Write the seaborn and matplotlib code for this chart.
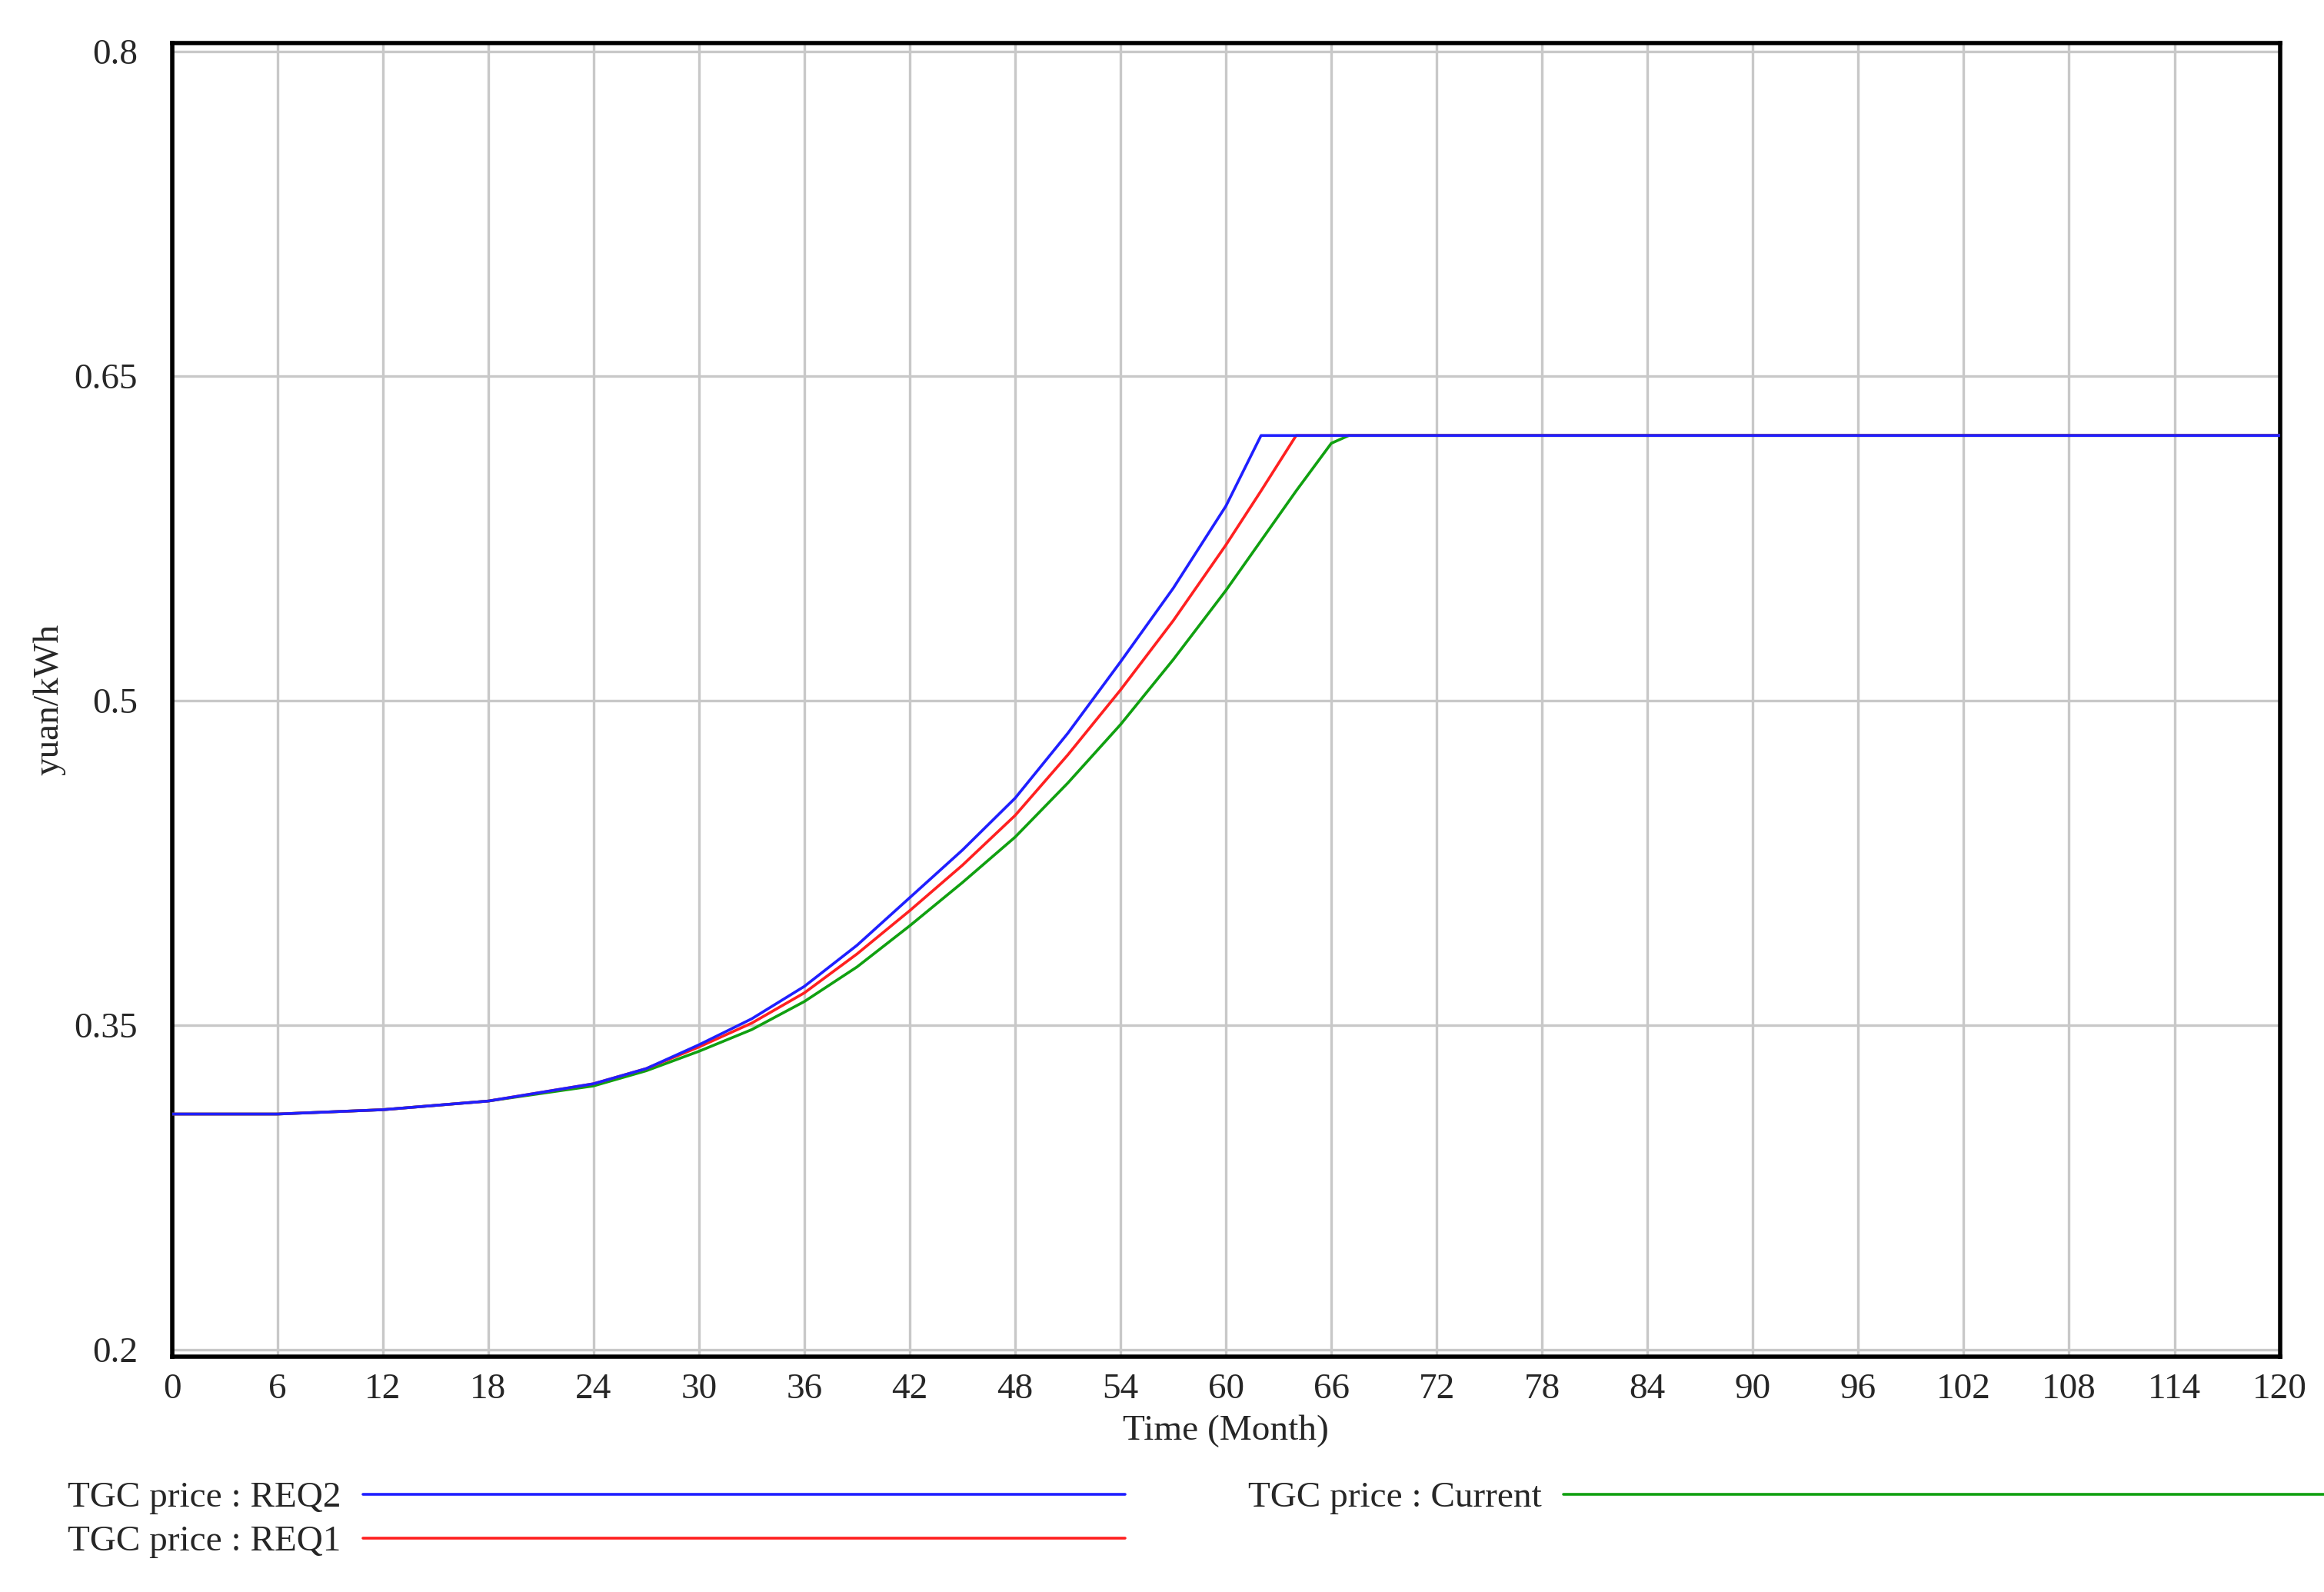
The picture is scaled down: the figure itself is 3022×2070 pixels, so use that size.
import matplotlib
matplotlib.use("Agg")
import matplotlib.pyplot as plt
import seaborn as sns
import numpy as np
import pandas as pd

# values
months = [0, 6, 12, 18, 24, 27, 30, 33, 36, 39, 42, 45, 48, 51, 54, 57, 60, 62, 64, 66, 67, 72, 120]
req2 = [0.309, 0.309, 0.311, 0.315, 0.323, 0.330, 0.341, 0.353, 0.368, 0.387, 0.409, 0.431, 0.455, 0.485, 0.518, 0.552, 0.590, 0.6226, 0.6226, 0.6226, 0.6226, 0.6226, 0.6226]
req1 = [0.309, 0.309, 0.311, 0.315, 0.323, 0.330, 0.340, 0.351, 0.365, 0.383, 0.403, 0.424, 0.447, 0.475, 0.505, 0.537, 0.572, 0.597, 0.6226, 0.6226, 0.6226, 0.6226, 0.6226]
current = [0.309, 0.309, 0.311, 0.315, 0.322, 0.329, 0.338, 0.348, 0.361, 0.377, 0.396, 0.416, 0.437, 0.462, 0.489, 0.519, 0.551, 0.574, 0.597, 0.619, 0.6226, 0.6226, 0.6226]

series = {
    "TGC price : REQ2": (req2, "#1f1fff"),
    "TGC price : REQ1": (req1, "#ff2020"),
    "TGC price : Current": (current, "#10a010"),
}

sns.set_style("white")
plt.rcParams["font.family"] = ["Liberation Serif", "DejaVu Serif"]

fig = plt.figure(figsize=(15.11, 10.35), dpi=200)
ax = fig.add_axes([0.074, 0.148, 0.907, 0.825])

# draw REQ2 last so it sits on top of the flat segment
for z, (name, (vals, col)) in zip([3, 2, 1], series.items()):
    df = pd.DataFrame({"t": months, "v": vals})
    sns.lineplot(data=df, x="t", y="v", ax=ax, color=col, linewidth=1.3, label=name, zorder=z + 2)

ax.set_xlim(0, 120)
ax.set_ylim(0.197, 0.804)
ax.set_xticks(np.arange(0, 121, 6))
ax.set_yticks([0.2, 0.35, 0.5, 0.65, 0.8])
ax.set_yticklabels(["0.2", "0.35", "0.5", "0.65", "0.8"])
ax.grid(True, color="#c8c8c8", linewidth=1.2)
ax.tick_params(labelsize=17, length=0)
ax.tick_params(axis="x", pad=8)
ax.tick_params(axis="y", pad=16)
ax.set_xlabel("Time (Month)", fontsize=17, labelpad=4)
ax.set_ylabel("yuan/kWh", fontsize=17)
for s in ax.spines.values():
    s.set_linewidth(2)
    s.set_color("black")
ax.get_legend().remove()

# legend drawn below the axes, as in the source tool
handles, labels = ax.get_legend_handles_labels()
fig.legend(handles[:2], labels[:2], loc="upper left", bbox_to_anchor=(0.015, 0.09),
           frameon=False, fontsize=17, handlelength=21, markerfirst=False,
           labelspacing=0.3, handletextpad=0.6)
fig.legend(handles[2:], labels[2:], loc="upper left", bbox_to_anchor=(0.523, 0.09),
           frameon=False, fontsize=17, handlelength=21, markerfirst=False,
           handletextpad=0.6)

fig.savefig("out.png", dpi=200)
